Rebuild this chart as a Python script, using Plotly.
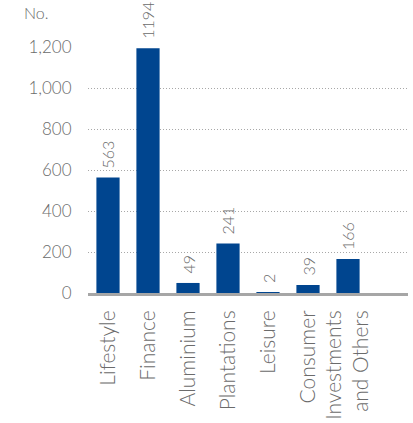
import plotly.graph_objects as go

categories = ["Lifestyle", "Finance", "Aluminium", "Plantations", "Leisure",
              "Consumer", "Investments<br>and Others"]
counts = [563, 1194, 49, 241, 2, 39, 166]
y_ticks = [0, 200, 400, 600, 800, 1000, 1200]
y_tick_labels = ["0", "200", "400", "600", "800", "1,000", "1,200"]

BAR = "#00458f"
GREY = "#6b6b6b"
FONT = "Lato, Open Sans, sans-serif"

fig = go.Figure(go.Bar(
    x=categories,
    y=counts,
    marker=dict(color=BAR, line=dict(width=0)),
    cliponaxis=False,
))

# value labels, rotated, sitting just above each bar
for cat, val in zip(categories, counts):
    fig.add_annotation(
        x=cat, y=val, xref="x", yref="y",
        text=str(val), textangle=-90,
        xanchor="center", yanchor="bottom", yshift=7,
        showarrow=False,
        font=dict(family=FONT, size=16, color=GREY, weight=300),
    )

fig.update_layout(
    width=413, height=423,
    margin=dict(l=88, r=5, t=47, b=130),
    paper_bgcolor="white", plot_bgcolor="white",
    bargap=0.42,
    showlegend=False,
    font=dict(family=FONT, color=GREY),
)

fig.update_xaxes(
    type="category",
    range=[-0.5, 7.5],
    automargin=False,
    tickangle=-90,
    tickfont=dict(family=FONT, size=21, color=GREY, weight=300),
    showline=True, linecolor="#a6a6a6", linewidth=3,
    showgrid=False, ticks="outside", ticklen=6, tickcolor="rgba(0,0,0,0)",
)

fig.update_yaxes(
    range=[0, 1200],
    automargin=False,
    tickvals=y_ticks, ticktext=y_tick_labels,
    tickfont=dict(family=FONT, size=17, color=GREY, weight=300),
    showgrid=True, gridcolor="#a8a8a8", griddash="1px,2px", gridwidth=1,
    zeroline=False, showline=False,
    ticks="outside", ticklen=12, tickcolor="rgba(0,0,0,0)",
)

fig.add_annotation(
    text="No.", xref="paper", yref="paper",
    x=-0.205, y=1.14, xanchor="left", yanchor="middle",
    showarrow=False,
    font=dict(family=FONT, size=16, color=GREY, weight=300),
)

fig.write_html("out.html")
